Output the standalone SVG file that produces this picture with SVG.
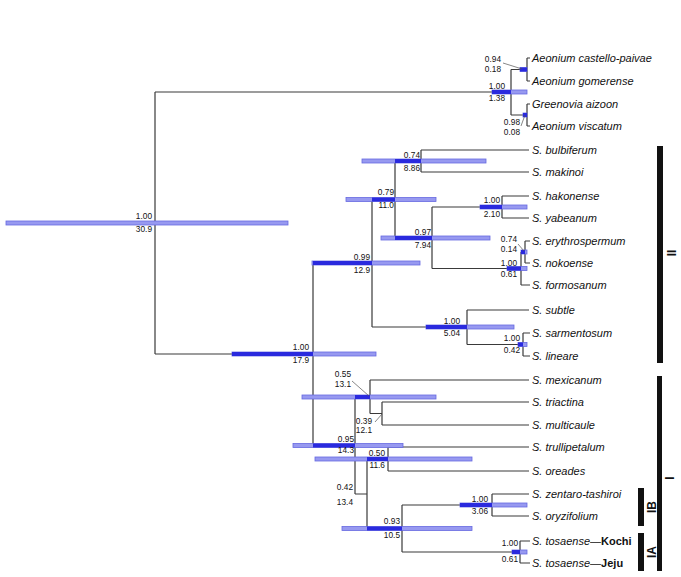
<svg xmlns="http://www.w3.org/2000/svg" width="681" height="577" viewBox="0 0 681 577">
<style>
.br{fill:none;stroke:#3a3a3a;stroke-width:1.2}
.bar{fill:#9799f0;stroke:#6669e0;stroke-width:0.8}
.dk{stroke:#2a2ade;stroke-width:4}
.nl{font-family:"Liberation Sans",Arial,sans-serif;font-size:8.3px;fill:#111;text-anchor:end}
.lf{font-family:"Liberation Sans",Arial,sans-serif;font-size:11px;font-style:italic;fill:#111}
.ld{stroke:#555;stroke-width:0.7}
.cl{fill:#111}
.ct{font-family:"Liberation Sans",Arial,sans-serif;font-size:12px;font-weight:bold;fill:#111;text-anchor:middle}
</style>
<g id="connectors" class="br">
<path d="M155,92V354 M511,69.5V115 M527,58V81 M527,104V126 M313,263V445.5 M372,199.5V327 M395,161V238 M421,150V172 M432,207V268.5 M502,196V218 M521,252V285 M525,241V263 M467,310V344.5 M523,333V356 M355,397V494 M370,380V413.5 M382,402V425 M367,459V528.5 M388,447V471 M402,505V552 M492,494V516 M520,541V563"/>
<path d="M155,92H511 M155,354H313 M511,69.5H527 M511,115H527 M527,58H530 M527,81H530 M527,104H530 M527,126H530 M313,263H372 M313,445.5H355 M372,199.5H395 M372,327H467 M395,161H421 M395,238H432 M421,150H529 M421,172H529 M432,207H502 M432,268.5H521 M502,196H529 M502,218H529 M521,252H525 M521,285H530 M525,241H530 M525,263H530 M467,310H529 M467,344.5H523 M523,333H530 M523,356H530 M355,397H370 M355,494H367 M370,380H529 M370,413.5H382 M382,402H529 M382,425H529 M367,459H388 M367,528.5H402 M388,447H529 M388,471H529 M402,505H492 M402,552H520 M492,494H529 M492,516H529 M520,541H530 M520,563H530"/>
</g>
<g id="n-root"><rect class="bar" x="6" y="221" width="282" height="4"/><text class="nl" x="152" y="219">1.00</text><text class="nl" x="152" y="232">30.9</text></g>
<g id="n-aeonium"><rect class="bar" x="492" y="90" width="35" height="4"/><line class="dk" x1="492" y1="92" x2="511" y2="92"/><text class="nl" x="505" y="89">1.00</text><text class="nl" x="505" y="101">1.38</text></g>
<g id="n-castello"><rect class="bar" x="520" y="67.5" width="7" height="4"/><line class="dk" x1="520" y1="69.5" x2="527" y2="69.5"/><text class="nl" x="501" y="62">0.94</text><text class="nl" x="501" y="72">0.18</text><line class="ld" x1="503" y1="63" x2="522" y2="69"/></g>
<g id="n-greenovia"><rect class="bar" x="523" y="113" width="4" height="4"/><line class="dk" x1="523" y1="115" x2="527" y2="115"/><text class="nl" x="520" y="125">0.98</text><text class="nl" x="520" y="135">0.08</text><line class="ld" x1="521" y1="126" x2="525" y2="115"/></g>
<g id="n-bulbiferum"><rect class="bar" x="362" y="159" width="124" height="4"/><line class="dk" x1="395" y1="161" x2="421" y2="161"/><text class="nl" x="420" y="158">0.74</text><text class="nl" x="420" y="171">8.86</text></g>
<g id="n-11-0"><rect class="bar" x="346" y="197.5" width="90" height="4"/><line class="dk" x1="372" y1="199.5" x2="395" y2="199.5"/><text class="nl" x="394" y="195">0.79</text><text class="nl" x="394" y="208">11.0</text></g>
<g id="n-hakonense"><rect class="bar" x="480" y="205" width="47" height="4"/><line class="dk" x1="480" y1="207" x2="502" y2="207"/><text class="nl" x="500" y="203">1.00</text><text class="nl" x="500" y="217">2.10</text></g>
<g id="n-7-94"><rect class="bar" x="381" y="236" width="109" height="4"/><line class="dk" x1="395" y1="238" x2="432" y2="238"/><text class="nl" x="431" y="235">0.97</text><text class="nl" x="431" y="248">7.94</text></g>
<g id="n-erythro"><rect class="bar" x="521" y="250" width="6" height="4"/><line class="dk" x1="521" y1="252" x2="525" y2="252"/><text class="nl" x="517" y="242">0.74</text><text class="nl" x="517" y="252">0.14</text><line class="ld" x1="518" y1="244" x2="524" y2="251"/></g>
<g id="n-formosanum"><rect class="bar" x="507" y="266.5" width="20" height="4"/><line class="dk" x1="507" y1="268.5" x2="521" y2="268.5"/><text class="nl" x="517" y="266">1.00</text><text class="nl" x="517" y="277">0.61</text></g>
<g id="n-12-9"><rect class="bar" x="312" y="261" width="108" height="4"/><line class="dk" x1="313" y1="263" x2="372" y2="263"/><text class="nl" x="370" y="260">0.99</text><text class="nl" x="370" y="273">12.9</text></g>
<g id="n-5-04"><rect class="bar" x="426" y="325" width="88" height="4"/><line class="dk" x1="426" y1="327" x2="467" y2="327"/><text class="nl" x="460" y="324">1.00</text><text class="nl" x="460" y="336">5.04</text></g>
<g id="n-sarmentosum"><rect class="bar" x="518" y="342.5" width="9" height="4"/><line class="dk" x1="518" y1="344.5" x2="523" y2="344.5"/><text class="nl" x="520" y="341">1.00</text><text class="nl" x="520" y="353">0.42</text></g>
<g id="n-17-9"><rect class="bar" x="232" y="352" width="144" height="4"/><line class="dk" x1="232" y1="354" x2="313" y2="354"/><text class="nl" x="309" y="350">1.00</text><text class="nl" x="309" y="363">17.9</text></g>
<g id="n-14-3"><rect class="bar" x="293" y="443.5" width="110" height="4"/><line class="dk" x1="313" y1="445.5" x2="355" y2="445.5"/><text class="nl" x="354" y="442">0.95</text><text class="nl" x="354" y="453">14.3</text></g>
<g id="n-13-1"><rect class="bar" x="302" y="395" width="134" height="4"/><line class="dk" x1="355" y1="397" x2="370" y2="397"/><text class="nl" x="351" y="377">0.55</text><text class="nl" x="351" y="387">13.1</text><line class="ld" x1="352" y1="381" x2="369" y2="396"/></g>
<g id="n-12-1"><text class="nl" x="372" y="424">0.39</text><text class="nl" x="372" y="433">12.1</text><line class="ld" x1="375" y1="422" x2="382" y2="414"/></g>
<g id="n-11-6"><rect class="bar" x="315" y="457" width="157" height="4"/><line class="dk" x1="367" y1="459" x2="388" y2="459"/><text class="nl" x="385" y="456">0.50</text><text class="nl" x="385" y="468">11.6</text></g>
<g id="n-13-4"><text class="nl" x="353" y="490">0.42</text><text class="nl" x="353" y="505">13.4</text></g>
<g id="n-10-5"><rect class="bar" x="342" y="526.5" width="130" height="4"/><line class="dk" x1="367" y1="528.5" x2="402" y2="528.5"/><text class="nl" x="400" y="524">0.93</text><text class="nl" x="400" y="538">10.5</text></g>
<g id="n-zentaro"><rect class="bar" x="460" y="503" width="67" height="4"/><line class="dk" x1="460" y1="505" x2="492" y2="505"/><text class="nl" x="488" y="502">1.00</text><text class="nl" x="488" y="514">3.06</text></g>
<g id="n-tosaense"><rect class="bar" x="512" y="550" width="15" height="4"/><line class="dk" x1="512" y1="552" x2="520" y2="552"/><text class="nl" x="518" y="546">1.00</text><text class="nl" x="518" y="562">0.61</text></g>
<g id="leaves">
<text id="t-castello" class="lf" x="532" y="62">Aeonium castello-paivae</text>
<text id="t-gomerense" class="lf" x="532" y="85">Aeonium gomerense</text>
<text id="t-greenovia" class="lf" x="532" y="108">Greenovia aizoon</text>
<text id="t-viscatum" class="lf" x="532" y="130">Aeonium viscatum</text>
<text id="t-bulbiferum" class="lf" x="532" y="154">S. bulbiferum</text>
<text id="t-makinoi" class="lf" x="532" y="176">S. makinoi</text>
<text id="t-hakonense" class="lf" x="532" y="200">S. hakonense</text>
<text id="t-yabeanum" class="lf" x="532" y="222">S. yabeanum</text>
<text id="t-erythrospermum" class="lf" x="532" y="245">S. erythrospermum</text>
<text id="t-nokoense" class="lf" x="532" y="267">S. nokoense</text>
<text id="t-formosanum" class="lf" x="532" y="289">S. formosanum</text>
<text id="t-subtle" class="lf" x="532" y="314">S. subtle</text>
<text id="t-sarmentosum" class="lf" x="532" y="337">S. sarmentosum</text>
<text id="t-lineare" class="lf" x="532" y="360">S. lineare</text>
<text id="t-mexicanum" class="lf" x="532" y="384">S. mexicanum</text>
<text id="t-triactina" class="lf" x="532" y="406">S. triactina</text>
<text id="t-multicaule" class="lf" x="532" y="429">S. multicaule</text>
<text id="t-trullipetalum" class="lf" x="532" y="451">S. trullipetalum</text>
<text id="t-oreades" class="lf" x="532" y="475">S. oreades</text>
<text id="t-zentaro" class="lf" x="532" y="498">S. zentaro-tashiroi</text>
<text id="t-oryzifolium" class="lf" x="532" y="520">S. oryzifolium</text>
<text id="t-kochi" class="lf" x="532" y="545">S. tosaense<tspan font-style="normal">—</tspan><tspan font-style="normal" font-weight="bold">Kochi</tspan></text>
<text id="t-jeju" class="lf" x="532" y="567">S. tosaense<tspan font-style="normal">—</tspan><tspan font-style="normal" font-weight="bold">Jeju</tspan></text>
</g>
<g id="clade-II"><rect class="cl" x="657" y="146" width="6" height="217"/><text class="ct" transform="translate(676,253) rotate(-90)">II</text></g>
<g id="clade-I"><rect class="cl" x="657" y="376" width="5" height="195"/><text class="ct" transform="translate(674,478) rotate(-90)">I</text></g>
<g id="clade-IB"><rect class="cl" x="638" y="488" width="6" height="38"/><text class="ct" transform="translate(656,507) rotate(-90)">IB</text></g>
<g id="clade-IA"><rect class="cl" x="638" y="533" width="6" height="38"/><text class="ct" transform="translate(656,552) rotate(-90)">IA</text></g>
</svg>
